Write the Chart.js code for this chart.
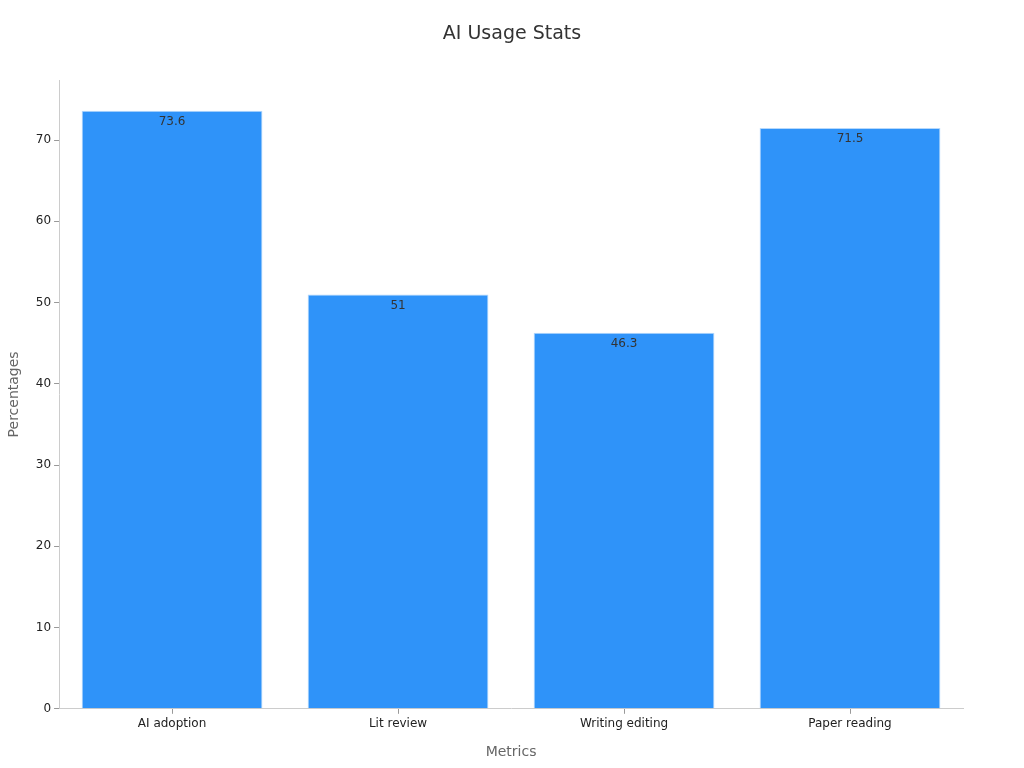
<!DOCTYPE html>
<html><head><meta charset="utf-8">
<script src="https://cdn.jsdelivr.net/npm/chart.js@4/dist/chart.umd.min.js"></script>
<style>html,body{margin:0;padding:0;background:#fff;}#wrap{width:1024px;height:768px;}</style>
</head><body><div id="wrap"><canvas id="c" width="1024" height="768"></canvas></div>
<script>
const categories = ["AI adoption", "Lit review", "Writing editing", "Paper reading"];
const values = [73.6, 51, 46.3, 71.5];
const yTicks = [0, 10, 20, 30, 40, 50, 60, 70];
const chartTitle = "AI Usage Stats";

Chart.defaults.font.family = "'DejaVu Sans', sans-serif";
const labelPlugin = {
  id: 'vlabels',
  afterDatasetsDraw(chart) {
    const ctx = chart.ctx;
    const meta = chart.getDatasetMeta(0);
    ctx.save();
    ctx.font = "12px 'DejaVu Sans', sans-serif";
    ctx.fillStyle = '#333';
    ctx.textAlign = 'center';
    ctx.textBaseline = 'top';
    meta.data.forEach((bar, i) => {
      ctx.fillText(String(values[i]), bar.x, bar.y + 5);
    });
    ctx.font = "19px 'DejaVu Sans', sans-serif";
    ctx.textBaseline = 'middle';
    ctx.fillText(chartTitle, chart.width / 2, 34);
    ctx.restore();
  }
};
new Chart(document.getElementById('c'), {
  type: 'bar',
  data: { labels: categories, datasets: [{ data: values, backgroundColor: '#2f93f9', borderColor: '#b5d8fc', borderWidth: 1, barPercentage: 0.8, categoryPercentage: 1.0 }] },
  options: {
    responsive: false, animation: false,
    layout: { padding: { left: 2, right: 61, top: 80, bottom: 3 } },
    plugins: { legend: { display: false }, tooltip: { enabled: false }, title: { display: false } },
    scales: {
      x: {
        grid: { drawOnChartArea: false, offset: false, drawTicks: true, tickLength: 5, color: '#999' },
        border: { color: '#ccc' },
        ticks: { color: '#222', font: { size: 12 }, padding: 3 },
        title: { display: true, text: 'Metrics', color: '#666', font: { size: 14 }, padding: { top: 10 } }
      },
      y: {
        min: 0, max: 77.4,
        afterBuildTicks(axis) { axis.ticks = yTicks.map(v => ({ value: v })); },
        grid: { drawOnChartArea: false, drawTicks: true, tickLength: 5, color: '#999' },
        border: { color: '#ccc' },
        ticks: { color: '#222', font: { size: 12 }, padding: 3 },
        title: { display: true, text: 'Percentages', color: '#666', font: { size: 14 }, padding: { bottom: 10 } }
      }
    }
  },
  plugins: [labelPlugin]
});
</script></body></html>
